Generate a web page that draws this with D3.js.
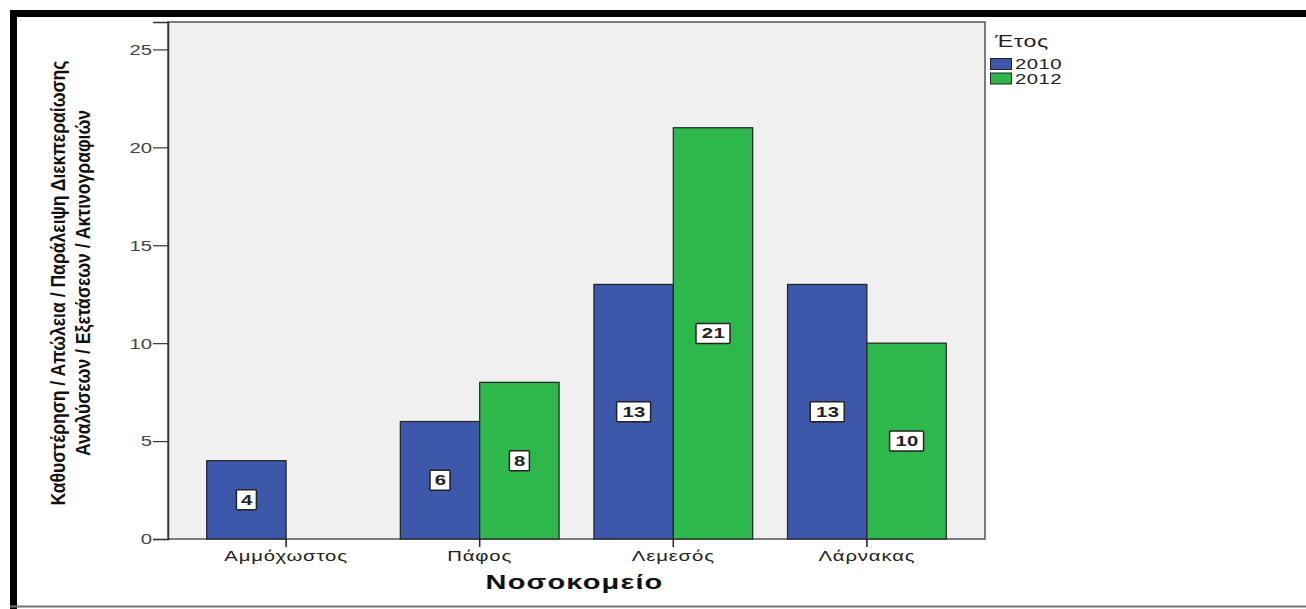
<!DOCTYPE html>
<html>
<head>
<meta charset="utf-8">
<script src="https://cdn.jsdelivr.net/npm/d3@7"></script>
<style>
  html, body { margin: 0; padding: 0; background: #fff; }
  svg { display: block; }
</style>
</head>
<body>
<svg id="chart" width="1306" height="609"></svg>
<script>
const categories = ["Αμμόχωστος", "Πάφος", "Λεμεσός", "Λάρνακας"];
const years = ["2010", "2012"];
const values2010 = [4, 6, 13, 13];
const values2012 = [null, 8, 21, 10];
const yTicks = [0, 5, 10, 15, 20, 25];
const yTitleLines = ["Καθυστέρηση / Απώλεια / Παράλειψη Διεκπεραίωσης", "Αναλύσεων / Εξετάσεων / Ακτινογραφιών"];
const xTitle = "Νοσοκομείο";
const legendTitle = "Έτος";
const colors = ["#3d57aa", "#2eb84b"];

const SX = 1.45; // horizontal stretch of the source picture's text
const FONT = "Arial, 'Liberation Sans', sans-serif";

const svg = d3.select("#chart");
const W = 1306, H = 609;

// Frame/border of the picture
svg.append("rect").attr("x", 0).attr("y", 0).attr("width", W).attr("height", H).attr("fill", "#fff");
svg.append("rect").attr("x", 10).attr("y", 10).attr("width", W - 10).attr("height", 7).attr("fill", "#000");
svg.append("rect").attr("x", 10).attr("y", 10).attr("width", 7).attr("height", H - 10).attr("fill", "#000");
svg.append("line").attr("x1", 10).attr("x2", W).attr("y1", 606.5).attr("y2", 606.5).attr("stroke", "#777").attr("stroke-width", 2);

const plot = { left: 168, right: 985, top: 22, bottom: 539 };

const y = d3.scaleLinear().domain([0, 26.4]).range([plot.bottom, plot.top]);
const x0 = d3.scaleBand().domain(categories).range([plot.left, plot.right]).paddingInner(0.18).paddingOuter(0.2);
const x1 = d3.scaleBand().domain(years).range([0, x0.bandwidth()]);

function stretchedText(parent, px, py, txt, opts) {
  const t = parent.append("text")
    .attr("transform", `translate(${px},${py}) scale(${SX},1)`)
    .attr("x", 0).attr("y", 0)
    .attr("font-family", FONT)
    .attr("font-size", opts.size || 14)
    .attr("font-weight", opts.weight || "normal")
    .attr("letter-spacing", opts.ls || 0)
    .attr("text-anchor", opts.anchor || "start")
    .attr("fill", opts.fill || "#222")
    .text(txt);
  if (opts.dy) t.attr("dy", opts.dy);
  return t;
}

// plot background
svg.append("rect")
  .attr("x", plot.left).attr("y", plot.top)
  .attr("width", plot.right - plot.left).attr("height", plot.bottom - plot.top)
  .attr("fill", "#f0f0f0").attr("stroke", "#555").attr("stroke-width", 1.5);

// bars
const series = [values2010, values2012];
const barData = [];
categories.forEach((c, i) => {
  years.forEach((yr, j) => {
    const v = series[j][i];
    if (v != null) barData.push({ cat: c, year: yr, value: v, color: colors[j] });
  });
});

svg.append("g").selectAll("rect").data(barData).join("rect")
  .attr("x", d => x0(d.cat) + x1(d.year))
  .attr("y", d => y(d.value))
  .attr("width", x1.bandwidth())
  .attr("height", d => y(0) - y(d.value))
  .attr("fill", d => d.color)
  .attr("stroke", "#222").attr("stroke-width", 1.2);

// value labels
const labG = svg.append("g");
barData.forEach(d => {
  const cx = x0(d.cat) + x1(d.year) + x1.bandwidth() / 2;
  const cy = y(d.value / 2);
  const w = String(d.value).length === 1 ? 20 : 34;
  labG.append("rect")
    .attr("x", cx - w / 2).attr("y", cy - 10)
    .attr("width", w).attr("height", 20)
    .attr("fill", "#fff").attr("stroke", "#222").attr("stroke-width", 1.5).attr("rx", 1);
  stretchedText(labG, cx + 0.5, cy, d.value, { size: 14, anchor: "middle", dy: "0.36em", weight: "bold", ls: 0.3, fill: "#222" });
});

// y axis
const yAxis = d3.axisLeft(y).tickValues(yTicks).tickSize(15).tickFormat("");
const yg = svg.append("g").attr("transform", `translate(${plot.left},0)`).call(yAxis);
yg.select(".domain").attr("stroke", "#333").attr("stroke-width", 1.5);
yg.selectAll(".tick line").attr("stroke", "#333").attr("stroke-width", 1.2);
yg.selectAll(".tick text").remove();
yg.selectAll(".tick").each(function(d) {
  stretchedText(d3.select(this), -16, 0, d, { size: 14, anchor: "end", dy: "0.35em", fill: "#444" });
});

// x axis
const xAxis = d3.axisBottom(x0).tickSize(8).tickFormat("");
const xg = svg.append("g").attr("transform", `translate(0,${plot.bottom})`).call(xAxis);
xg.select(".domain").remove();
xg.selectAll(".tick line").attr("stroke", "#222").attr("stroke-width", 1.5);
xg.selectAll(".tick text").remove();
xg.selectAll(".tick").each(function(d) {
  stretchedText(d3.select(this), 0, 22, d, { size: 14, anchor: "middle", ls: 0.6, fill: "#222" });
});

// x title
stretchedText(svg, (plot.left + plot.right) / 2 - 2, 589, xTitle, { size: 20, weight: "bold", anchor: "middle", ls: 0.8, fill: "#111" });

// y title (condensed to the narrow look of the reference)
const yCenter = 283;
const yTitleX = [65, 90];
const targetLen = 445;
const titles = yTitleLines.map((t, i) => svg.append("text")
    .attr("font-family", "'Liberation Sans Narrow', 'Arial Narrow', 'Liberation Sans', sans-serif")
    .attr("font-size", 21).attr("font-weight", "bold")
    .attr("text-anchor", "middle")
    .attr("fill", "#111")
    .text(t));
const natural = titles[0].node().getComputedTextLength() || targetLen;
const k = targetLen / natural;
titles.forEach((t, i) => t.attr("transform", `translate(${yTitleX[i]},${yCenter}) rotate(-90) scale(${k},1)`));

// legend
const lg = svg.append("g");
stretchedText(lg, 995, 47, legendTitle, { size: 16, ls: 0.5, fill: "#222" });
years.forEach((yr, j) => {
  lg.append("rect")
    .attr("x", 990.5).attr("y", 58.5 + j * 14.5)
    .attr("width", 21).attr("height", 11)
    .attr("fill", colors[j]).attr("stroke", "#222").attr("stroke-width", 1);
  stretchedText(lg, 1015, 69 + j * 14.5, yr, { size: 14, ls: 0.3, fill: "#222" });
});
</script>
</body>
</html>
